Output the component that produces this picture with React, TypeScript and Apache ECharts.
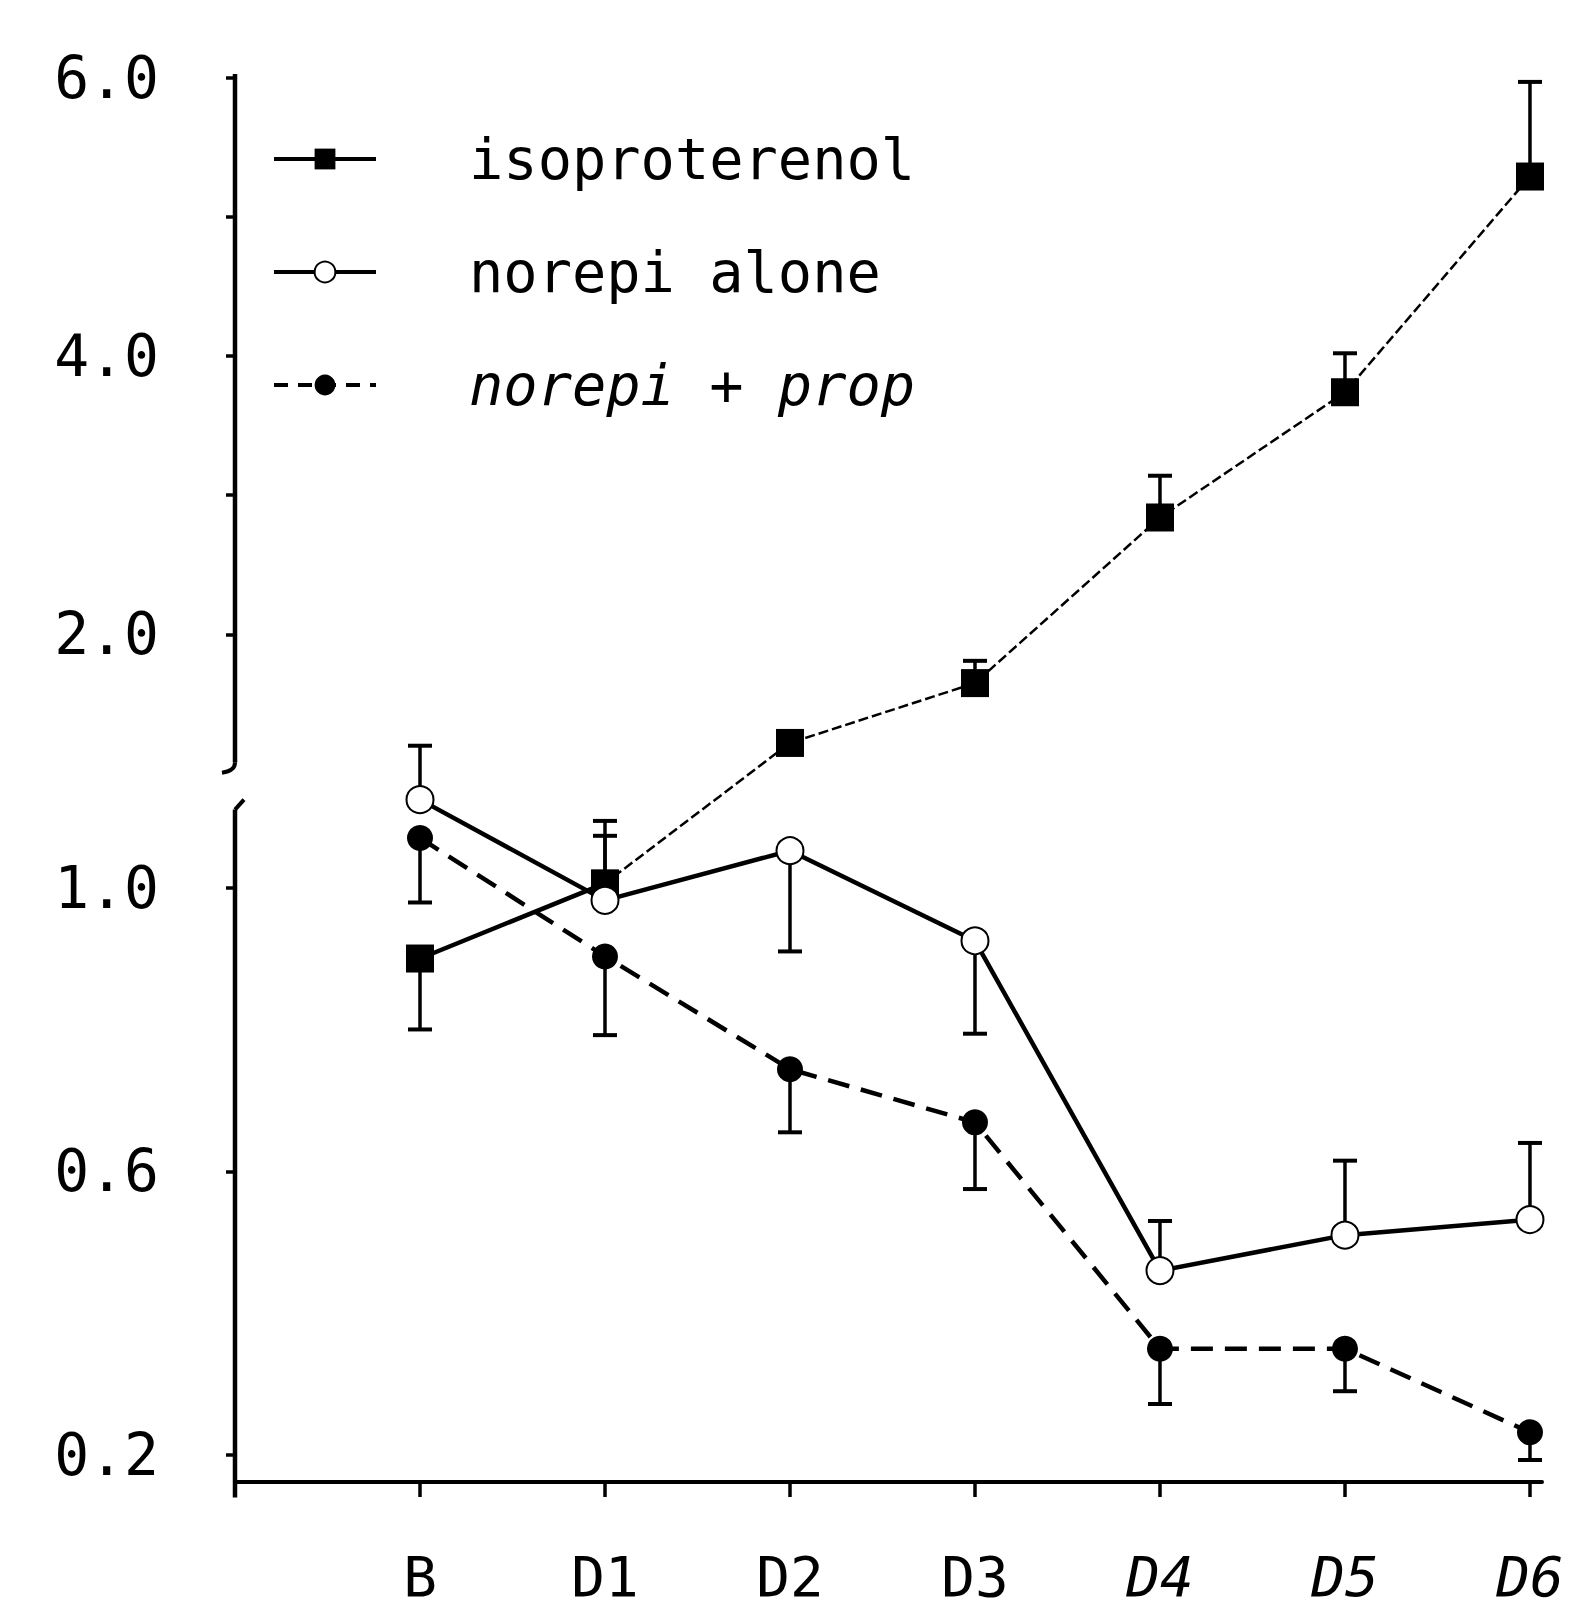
import React, { useEffect, useRef } from "react";
import * as echarts from "echarts";

// ---- data ----
const categories = ["B", "D1", "D2", "D3", "D4", "D5", "D6"];
const isoproterenol = [0.9, 1.006, 1.22, 1.65, 2.84, 3.74, 5.29];
const isoproterenolErr = [0.8, 1.073, null, 1.81, 3.14, 4.02, 5.97];
const norepiAlone = [1.124, 0.982, 1.052, 0.925, 0.46, 0.51, 0.532];
const norepiAloneErr = [1.2, 1.094, 0.91, 0.794, 0.53, 0.615, 0.64];
const norepiProp = [1.07, 0.903, 0.744, 0.669, 0.35, 0.35, 0.232];
const norepiPropErr = [0.979, 0.792, 0.655, 0.575, 0.272, 0.29, 0.193];
const yTickValues = [0.2, 0.6, 1.0, 2.0, 3.0, 4.0, 5.0, 6.0];
const yLabelValues = [0.2, 0.6, 1.0, 2.0, 4.0, 6.0];
const yAxisSegments = [
  [0.14, 1.11],
  [1.176, 6.027],
];
const seriesNames = ["isoproterenol", "norepi alone", "norepi + prop"];

// broken axis: below KNOT one scale, above it a compressed scale
const KNOT = 1.2;
const UPPER = 139.3 / 710;
const toT = (v: number) => (v <= KNOT ? v : KNOT + (v - KNOT) * UPPER);
const fromT = (t: number) => (t <= KNOT ? t : KNOT + (t - KNOT) / UPPER);

const FONT = "DejaVu Sans Mono";

function errData(vals: number[], errs: (number | null)[]) {
  const out: number[][] = [];
  vals.forEach((v, i) => {
    const e = errs[i];
    if (e != null) out.push([i, toT(v), toT(e)]);
  });
  return out;
}

function errSeries(vals: number[], errs: (number | null)[]) {
  return {
    type: "custom",
    silent: true,
    z: 1,
    encode: { x: 0, y: [1, 2] },
    data: errData(vals, errs),
    renderItem: (_params: any, api: any) => {
      const x = api.value(0);
      const p0 = api.coord([x, api.value(1)]);
      const p1 = api.coord([x, api.value(2)]);
      return {
        type: "group",
        children: [
          {
            type: "line",
            shape: { x1: p0[0], y1: p0[1], x2: p1[0], y2: p1[1] },
            style: { stroke: "#000", lineWidth: 3.5 },
          },
          {
            type: "line",
            shape: { x1: p1[0] - 12, y1: p1[1], x2: p1[0] + 12, y2: p1[1] },
            style: { stroke: "#000", lineWidth: 4 },
          },
        ],
      };
    },
  };
}

export default function App() {
  const ref = useRef<HTMLDivElement>(null);
  useEffect(() => {
    document.body.style.margin = "0";
    const chart = echarts.init(ref.current!, null, { renderer: "svg" });
    const option: any = {
      animation: false,
      backgroundColor: "#fff",
      grid: { left: 235, right: 40, top: 74, bottom: 125, containLabel: false },
      legend: {
        orient: "vertical",
        left: 267,
        top: 124,
        itemWidth: 102,
        itemHeight: 26,
        itemGap: 53,
        selectedMode: false,
        textStyle: {
          fontFamily: FONT,
          fontSize: 57,
          lineHeight: 60,
          color: "#000",
          padding: [0, 0, 0, 88],
        },
        data: [
          { name: seriesNames[0], lineStyle: { type: "solid", width: 4 } },
          { name: seriesNames[1], lineStyle: { type: "solid", width: 4 } },
          {
            name: seriesNames[2],
            lineStyle: { type: [14, 10], width: 4 },
            textStyle: { fontStyle: "italic" },
          },
        ],
      },
      xAxis: {
        type: "value",
        min: -1,
        max: 6.065,
        splitLine: { show: false },
        axisLine: { show: true, onZero: false, lineStyle: { color: "#000", width: 4 } },
        axisTick: {
          show: true,
          customValues: categories.map((_, i) => i),
          length: 15,
          lineStyle: { color: "#000", width: 3.5 },
        },
        axisLabel: {
          customValues: categories.map((_, i) => i),
          formatter: (v: number) => {
            const c = categories[Math.round(v)] ?? "";
            return Math.round(v) >= 4 ? `{i|${c}}` : c;
          },
          margin: 66,
          fontFamily: FONT,
          fontSize: 56,
          lineHeight: 56,
          color: "#000",
          rich: {
            i: { fontFamily: FONT, fontSize: 56, lineHeight: 56, fontStyle: "italic", color: "#000" },
          },
        },
      },
      yAxis: {
        type: "value",
        min: 0.162,
        max: 2.147,
        splitLine: { show: false },
        axisLine: { show: false, onZero: false },
        axisTick: {
          show: true,
          customValues: yTickValues.map(toT),
          length: 9,
          lineStyle: { color: "#000", width: 3.5 },
        },
        axisLabel: {
          customValues: yLabelValues.map(toT),
          formatter: (t: number) => fromT(t).toFixed(1),
          margin: 76,
          fontFamily: FONT,
          fontSize: 58,
          color: "#000",
        },
      },
      series: [
        // broken y-axis line
        {
          type: "custom",
          silent: true,
          z: 3,
          encode: { x: 0, y: [1, 2] },
          data: yAxisSegments.map((s) => [-1, toT(s[0]), toT(s[1])]),
          renderItem: (params: any, api: any) => {
            const x = api.value(0);
            const lo = api.coord([x, api.value(1)]);
            const hi = api.coord([x, api.value(2)]);
            const children: any[] = [
              {
                type: "line",
                shape: { x1: lo[0], y1: lo[1], x2: hi[0], y2: hi[1] },
                style: { stroke: "#000", lineWidth: 4.5 },
              },
            ];
            if (params.dataIndex === 0) {
              children.push({
                type: "line",
                shape: { x1: hi[0], y1: hi[1], x2: hi[0] + 9, y2: hi[1] - 10 },
                style: { stroke: "#000", lineWidth: 4 },
              });
            } else {
              children.push({
                type: "bezierCurve",
                shape: {
                  x1: lo[0], y1: lo[1],
                  x2: lo[0] - 13, y2: lo[1] + 10,
                  cpx1: lo[0], cpy1: lo[1] + 8,
                },
                style: { stroke: "#000", lineWidth: 4, fill: "none" },
              });
            }
            return { type: "group", children };
          },
        },
        errSeries(isoproterenol, isoproterenolErr),
        errSeries(norepiAlone, norepiAloneErr),
        errSeries(norepiProp, norepiPropErr),
        // thick solid first segment of isoproterenol
        {
          type: "line",
          silent: true,
          z: 2,
          symbol: "none",
          data: isoproterenol.map((v, i) => (i <= 1 ? [i, toT(v)] : [i, null])),
          lineStyle: { color: "#000", width: 4.5, type: "solid" },
          connectNulls: false,
        },
        {
          name: seriesNames[0],
          type: "line",
          z: 4,
          symbol: "rect",
          symbolSize: 28,
          data: isoproterenol.map((v, i) => [i, toT(v)]),
          itemStyle: { color: "#000" },
          lineStyle: { color: "#000", width: 2.5, type: [10, 4] },
        },
        {
          name: seriesNames[1],
          type: "line",
          z: 4,
          symbol: "emptyCircle",
          symbolSize: 27,
          data: norepiAlone.map((v, i) => [i, toT(v)]),
          itemStyle: { color: "#000", borderWidth: 3.5, borderColor: "#000" },
          lineStyle: { color: "#000", width: 4.5, type: "solid" },
        },
        {
          name: seriesNames[2],
          type: "line",
          z: 4,
          symbol: "circle",
          symbolSize: 26,
          data: norepiProp.map((v, i) => [i, toT(v)]),
          itemStyle: { color: "#000" },
          lineStyle: { color: "#000", width: 4.5, type: [22, 12] },
        },
      ],
    };
    chart.setOption(option);
    return () => chart.dispose();
  }, []);
  return <div ref={ref} style={{ width: 1582, height: 1607 }} />;
}
